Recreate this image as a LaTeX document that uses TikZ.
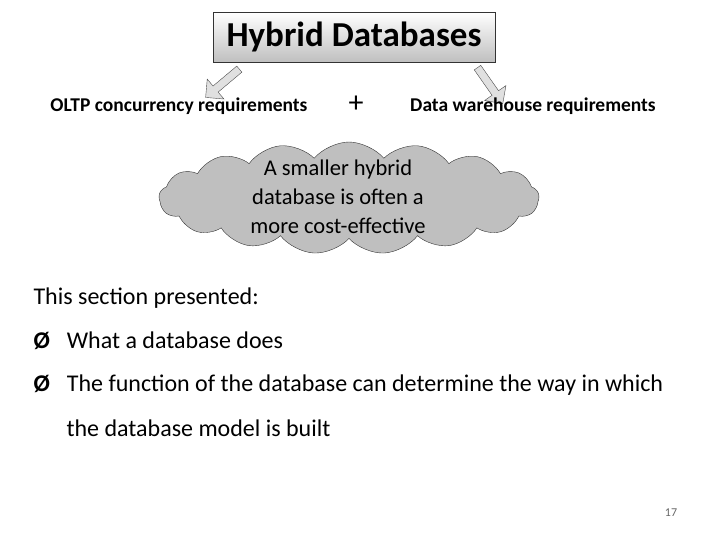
\documentclass[tikz,border=0pt]{standalone}
\usepackage{fontspec}
\setmainfont{Carlito}
\usetikzlibrary{shapes.symbols,shapes.arrows}
\begin{document}
\begin{tikzpicture}[x=1pt,y=-1pt,
  blockarrow/.style={single arrow,draw=black!70,fill=black!12,minimum width=26pt,single arrow head extend=5pt,minimum height=44pt,inner sep=2pt},
  body/.style={font=\fontsize{24}{28}\selectfont,anchor=west}]
\useasboundingbox (0,0) rectangle (720,540);
\node[draw=black!80,top color=white,bottom color=black!25,minimum width=282pt,minimum height=50pt,font=\fontsize{35}{40}\bfseries] (title) at (354,37) {Hybrid Databases};
\node[blockarrow,rotate=-140] (la) at (224,82) {};
\node[blockarrow,rotate=-55] (ra) at (489,84) {};
\node[font=\fontsize{19.5}{22}\bfseries] (oltp) at (179,106) {OLTP concurrency requirements};
\node[font=\fontsize{30}{32}\selectfont] (plus) at (356,104) {+};
\node[font=\fontsize{19.5}{22}\bfseries] (dw) at (533,106) {Data warehouse requirements};
\node[cloud,cloud puffs=17,cloud puff arc=100,draw=black!80,fill=black!25,minimum width=380pt,minimum height=112pt] (cl) at (349,198) {};
\node[align=center,font=\fontsize{22.5}{29}\selectfont] (ct) at (338,197) {A smaller hybrid\\database is often a\\more cost-effective};
\node[body] (s) at (30,298) {This section presented:};
\node[body] (b1) at (30,341) {\textbf{Ø}\hspace{17pt}What a database does};
\node[body] (b2) at (30,385) {\textbf{Ø}\hspace{17pt}The function of the database can determine the way in which};
\node[body] (b3) at (63,428) {the database model is built};
\node[font=\fontsize{12}{14}\selectfont,text=black!60] (pg) at (671,513) {17};
\end{tikzpicture}
\end{document}
